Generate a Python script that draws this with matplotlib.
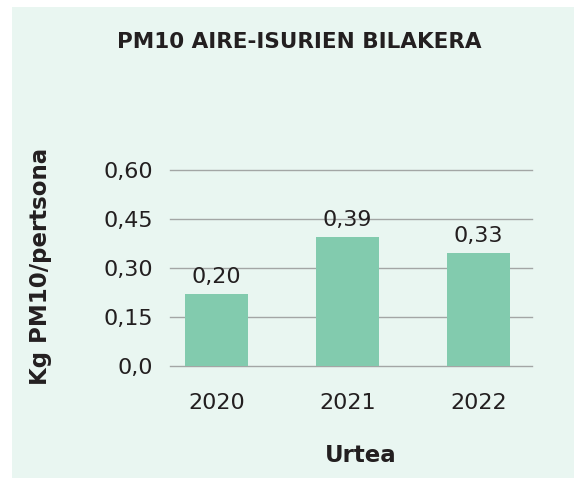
import matplotlib
matplotlib.use('Agg')
import matplotlib.pyplot as plt
import matplotlib.patches as mpatches

# ── data ──────────────────────────────────────────────────────────────────────
years = ["2020", "2021", "2022"]
bar_heights = [0.22, 0.395, 0.345]          # heights as drawn in the chart
value_labels = ["0,20", "0,39", "0,33"]     # labels printed above the bars
y_ticks = [0.0, 0.15, 0.30, 0.45, 0.60]
y_tick_labels = ["0,0", "0,15", "0,30", "0,45", "0,60"]

BG = "#e9f6f1"
BAR = "#82cbae"
TXT = "#231f20"
GRID = "#a3a6a5"

plt.rcParams['font.family'] = ['DejaVu Sans']

fig = plt.figure(figsize=(5.74, 4.79), dpi=100)
fig.patch.set_facecolor('white')

# panel background
panel = mpatches.Rectangle((12 / 574, 1 - 478 / 479), 1 - 12 / 574, (478 - 7) / 479,
                           transform=fig.transFigure, facecolor=BG,
                           edgecolor='none', zorder=-5)
fig.patches.append(panel)

ax = fig.add_axes([0.2962, 0.2365, 0.6301, 0.4086])
ax.set_facecolor('none')

x = range(len(years))
bars = ax.bar(x, bar_heights, width=0.48, color=BAR, zorder=3)

for b, lab in zip(bars, value_labels):
    ax.annotate(lab, (b.get_x() + b.get_width() / 2, b.get_height()),
                xytext=(0, 5), textcoords='offset points',
                ha='center', va='bottom', fontsize=16, color=TXT, zorder=4)

ax.set_xlim(-0.355, 2.406)
ax.set_ylim(0, 0.6)
ax.set_yticks(y_ticks)
ax.set_yticklabels(y_tick_labels)
ax.set_xticks(list(x))
ax.set_xticklabels(years)
ax.tick_params(axis='both', length=0, labelsize=16, colors=TXT)
ax.tick_params(axis='y', pad=12)
ax.tick_params(axis='x', pad=20)

ax.grid(axis='y', color=GRID, linewidth=1.0, zorder=1)
ax.set_axisbelow(True)
for gl in ax.get_ygridlines():
    gl.set_clip_on(False)
for s in ax.spines.values():
    s.set_visible(False)

# titles
fig.text(299 / 574, 1 - 42 / 479, "PM10 AIRE-ISURIEN BILAKERA",
         ha='center', va='center', fontsize=15.5, fontweight='bold', color=TXT)
fig.text(361 / 574, 1 - 456 / 479, "Urtea",
         ha='center', va='center', fontsize=16.5, fontweight='bold', color=TXT)
fig.text(41 / 574, 1 - 266.5 / 479, "Kg PM10/pertsona", rotation=90,
         ha='center', va='center', fontsize=16.5, fontweight='bold', color=TXT)

fig.savefig("out.png", dpi=100, facecolor='white')
